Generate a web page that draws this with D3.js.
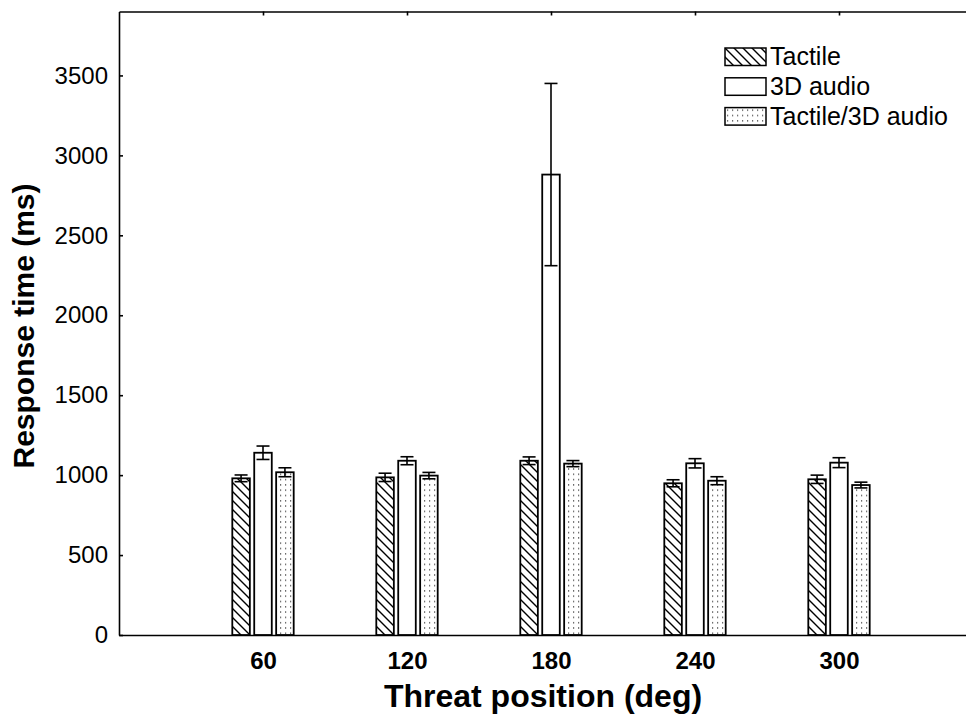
<!DOCTYPE html>
<html>
<head>
<meta charset="utf-8">
<script src="https://cdn.jsdelivr.net/npm/d3@7"></script>
<style>
  html, body { margin: 0; padding: 0; background: #fff; }
  svg { display: block; font-family: "Liberation Sans", Arial, Helvetica, sans-serif; }
</style>
</head>
<body>
<svg id="chart" width="971" height="722"></svg>
<script>
// Threat positions (deg) on the horizontal axis
const positions = [60, 120, 180, 240, 300];
const positionLabels = ["60", "120", "180", "240", "300"];

// Mean response times (ms) and error-bar half-widths per display condition
const seriesNames = ["Tactile", "3D audio", "Tactile/3D audio"];
const tactile      = [980, 986, 1090, 949, 974];
const tactileErr   = [21, 26, 24, 22, 26];
const audio3d      = [1140, 1090, 2880, 1074, 1078];
const audio3dErr   = [42, 25, 570, 29, 31];
const combined     = [1018, 997, 1072, 965, 938];
const combinedErr  = [28, 20, 19, 25, 18];

const yTicks = [0, 500, 1000, 1500, 2000, 2500, 3000, 3500];

const svg = d3.select("#chart");
const plotLeft = 119, plotRight = 966, plotTop = 11.5, plotBottom = 635;

const x = d3.scaleLinear().domain([0, 360]).range([plotLeft, 983]);
const y = d3.scaleLinear().domain([0, 3900]).range([plotBottom, plotTop]);
const inner = d3.scaleBand().domain(seriesNames).range([-30.7, 30.7]).paddingInner(0.2);

// Fill patterns
const defs = svg.append("defs");
const hatch = defs.append("pattern").attr("id", "hatch")
  .attr("patternUnits", "userSpaceOnUse").attr("width", 9).attr("height", 9);
hatch.append("rect").attr("width", 9).attr("height", 9).attr("fill", "#fff");
hatch.append("path").attr("d", "M-1,-1 L10,10 M-1,8 L1,10 M8,-1 L10,1")
  .attr("stroke", "#000").attr("stroke-width", 1.4);
const dots = defs.append("pattern").attr("id", "dots")
  .attr("patternUnits", "userSpaceOnUse").attr("width", 5).attr("height", 5.3);
dots.append("rect").attr("width", 5).attr("height", 5.3).attr("fill", "#fff");
dots.append("rect").attr("x", 2).attr("y", 2).attr("width", 1.2).attr("height", 1.2).attr("fill", "#333");

const fills = { "Tactile": "url(#hatch)", "3D audio": "#fff", "Tactile/3D audio": "url(#dots)" };

const rows = positions.map((p, i) => ({
  pos: p,
  values: [
    { name: "Tactile", v: tactile[i], e: tactileErr[i] },
    { name: "3D audio", v: audio3d[i], e: audio3dErr[i] },
    { name: "Tactile/3D audio", v: combined[i], e: combinedErr[i] }
  ]
}));

// Axes
const clip = defs.append("clipPath").attr("id", "frame");
clip.append("rect").attr("x", 0).attr("y", 0).attr("width", plotRight).attr("height", 722);

const axes = svg.append("g").attr("clip-path", "url(#frame)");

axes.append("g").attr("transform", `translate(0,${plotBottom})`)
  .call(d3.axisBottom(x).tickValues(positions).tickFormat((d, i) => positionLabels[i])
    .tickSizeInner(-4).tickSizeOuter(0).tickPadding(17))
  .call(g => g.selectAll("text").attr("font-size", 24).attr("font-weight", "bold")
    .attr("fill", "#000").attr("font-family", null))
  .call(g => g.selectAll("line,path").attr("stroke", "#000").attr("stroke-width", 1.6));

axes.append("g").attr("transform", `translate(0,${plotTop})`)
  .call(d3.axisTop(x).tickValues(positions).tickFormat("").tickSizeInner(-4).tickSizeOuter(0))
  .call(g => g.selectAll("line,path").attr("stroke", "#000").attr("stroke-width", 1.6));

svg.append("g").attr("transform", `translate(${plotLeft},0)`)
  .call(d3.axisLeft(y).tickValues(yTicks).tickFormat(d3.format("d"))
    .tickSizeInner(-4).tickSizeOuter(0).tickPadding(11))
  .call(g => g.selectAll("text").attr("font-size", 24).attr("fill", "#000").attr("font-family", null))
  .call(g => g.selectAll("line,path").attr("stroke", "#000").attr("stroke-width", 1.6));

// Bars
const groups = svg.append("g").selectAll("g").data(rows).join("g")
  .attr("transform", d => `translate(${x(d.pos)},0)`);

groups.selectAll("rect").data(d => d.values).join("rect")
  .attr("x", d => inner(d.name))
  .attr("y", d => y(d.v))
  .attr("width", inner.bandwidth())
  .attr("height", d => y(0) - y(d.v))
  .attr("fill", d => fills[d.name])
  .attr("stroke", "#000").attr("stroke-width", 1.8);

// Error bars
const capHalf = 6.5;
const eb = groups.selectAll("g.err").data(d => d.values).join("g").attr("class", "err")
  .attr("stroke", "#000").attr("stroke-width", 1.6);
eb.append("line")
  .attr("x1", d => inner(d.name) + inner.bandwidth() / 2)
  .attr("x2", d => inner(d.name) + inner.bandwidth() / 2)
  .attr("y1", d => y(d.v + d.e)).attr("y2", d => y(d.v - d.e));
eb.append("line")
  .attr("x1", d => inner(d.name) + inner.bandwidth() / 2 - capHalf)
  .attr("x2", d => inner(d.name) + inner.bandwidth() / 2 + capHalf)
  .attr("y1", d => y(d.v + d.e)).attr("y2", d => y(d.v + d.e));
eb.append("line")
  .attr("x1", d => inner(d.name) + inner.bandwidth() / 2 - capHalf)
  .attr("x2", d => inner(d.name) + inner.bandwidth() / 2 + capHalf)
  .attr("y1", d => y(d.v - d.e)).attr("y2", d => y(d.v - d.e));

// Axis titles
svg.append("text")
  .attr("transform", "translate(34,326) rotate(-90)")
  .attr("text-anchor", "middle")
  .attr("font-size", 30).attr("font-weight", "bold")
  .text("Response time (ms)");

svg.append("text")
  .attr("x", 543).attr("y", 707)
  .attr("text-anchor", "middle")
  .attr("font-size", 32).attr("font-weight", "bold")
  .text("Threat position (deg)");

// Legend
const legend = svg.append("g").attr("transform", "translate(725,48)");
const item = legend.selectAll("g").data(seriesNames).join("g")
  .attr("transform", (d, i) => `translate(0,${i * 29.8})`);
item.append("rect").attr("width", 41).attr("height", 17.5)
  .attr("fill", d => fills[d]).attr("stroke", "#000").attr("stroke-width", 1.5);
item.append("text").attr("x", 45).attr("y", 17)
  .attr("font-size", 25).text(d => d);
</script>
</body>
</html>
